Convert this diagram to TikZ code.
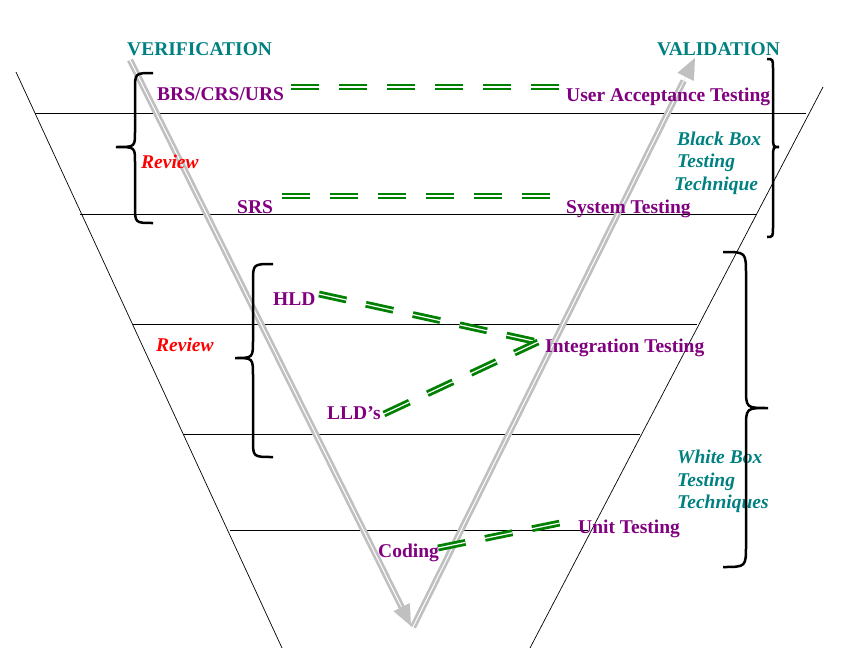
\documentclass[tikz,border=0pt]{standalone}
\usepackage{fontspec}
\setmainfont{Liberation Serif}
\usetikzlibrary{arrows.meta,calc}
\definecolor{vpurple}{RGB}{128,0,128}
\definecolor{vteal}{RGB}{0,128,128}
\definecolor{vgreen}{RGB}{0,128,0}
\definecolor{vgray}{RGB}{192,192,192}
\begin{document}
\begin{tikzpicture}[x=1pt,y=-1pt,
  lbl/.style={font=\fontsize{19.5}{21}\selectfont\bfseries, text=vpurple, inner sep=0pt, anchor=base west},
  head/.style={lbl, text=vteal},
  note/.style={lbl, font=\fontsize{19.5}{21}\selectfont\bfseries\itshape, text=vteal},
  rev/.style={note, text=red},
  funnel/.style={black, line width=0.7pt},
  rung/.style={black, line width=1pt},
  link/.style={draw=vgreen, line width=2.8pt, double=white, double distance=1.2pt, dash pattern=on 28pt off 20pt},
  vshaft/.style={draw=vgray, line width=2.7pt, double=white, double distance=1pt},
  vtip/.style={draw=vgray, line width=0.1pt, -{Triangle[length=21pt,width=18pt]}},
  brace/.style={black, line width=2.5pt}]
\useasboundingbox (0,0) rectangle (868,653);

% funnel
\coordinate (fl1) at (16,72);
\coordinate (fl2) at (282,648);
\coordinate (fr1) at (823,87);
\coordinate (fr2) at (530,648);
\draw[funnel] (fl1) -- (fl2);
\draw[funnel] (fr1) -- (fr2);

% rungs
\draw[rung] (35,113) -- (806,113);
\draw[rung] (80,214) -- (757,214);
\draw[rung] (133,324) -- (697,324);
\draw[rung] (183,434) -- (640,434);
\draw[rung] (230,530) -- (588,530);

% V arrows
\coordinate (va) at (130,60);
\coordinate (vb) at (411,626);
\coordinate (vc) at (413,627);
\coordinate (vd) at (695,58);
\draw[vshaft] (va) -- ($(va)!0.97!(vb)$);
\draw[vtip] ($(va)!0.96!(vb)$) -- (vb);
\draw[vshaft] (vc) -- ($(vc)!0.96!(vd)$);
\draw[vtip] ($(vc)!0.95!(vd)$) -- (vd);

% texts
\node[head] (ver) at (127,55) {VERIFICATION};
\node[head] (val) at (657,55) {VALIDATION};
\node[lbl] (brs) at (157,100) {BRS/CRS/URS};
\node[lbl] (uat) at (566,101) {User Acceptance Testing};
\node[rev] (rev1) at (141,168) {Review};
\node[lbl] (srs) at (237,213) {SRS};
\node[lbl] (st) at (566,213) {System Testing};
\node[note] (bb1) at (677,145) {Black Box};
\node[note] (bb2) at (677,167) {Testing};
\node[note] (bb3) at (674,190) {Technique};
\node[lbl] (hld) at (273,305) {HLD};
\node[rev] (rev2) at (156,351) {Review};
\node[lbl] (it) at (545,352) {Integration Testing};
\node[lbl] (lld) at (327,419) {LLD’s};
\node[note] (wb1) at (677,463) {White Box};
\node[note] (wb2) at (677,486) {Testing};
\node[note] (wb3) at (677,508) {Techniques};
\node[lbl] (ut) at (578,533) {Unit Testing};
\node[lbl] (cod) at (378,557) {Coding};

% green links
\coordinate (brsR) at (291,87);
\coordinate (uatL) at (559,87);
\coordinate (srsR) at (282,196);
\coordinate (stL) at (552,196);
\coordinate (hldR) at (319,294);
\coordinate (itL) at (538,342);
\coordinate (lldR) at (384,414);
\coordinate (codR) at (438,548);
\coordinate (utL) at (560,523);
\draw[link] (brsR) -- (uatL);
\draw[link] (srsR) -- (stL);
\draw[link] (hldR) -- (itL);
\draw[link] (lldR) -- (itL);
\draw[link] (codR) -- (utL);

% braces
\draw[brace] (153,73) .. controls (135,73) .. (135,90) -- (135,132)
  .. controls (135,147) .. (116,147) .. controls (135,147) .. (135,162)
  -- (135,206) .. controls (135,223) .. (153,223);
\draw[brace] (273,264) .. controls (253,264) .. (253,282) -- (253,340)
  .. controls (253,358) .. (235,358) .. controls (253,358) .. (253,376)
  -- (253,440) .. controls (253,457) .. (273,457);
\draw[brace] (767,59) .. controls (773,59) .. (773,70) -- (773,136)
  .. controls (773,147) .. (779,147) .. controls (773,147) .. (773,158)
  -- (773,226) .. controls (773,237) .. (767,237);
\draw[brace] (723,252) .. controls (746,252) .. (746,275) -- (746,388)
  .. controls (746,408) .. (768,408) .. controls (746,408) .. (746,428)
  -- (746,545) .. controls (746,567) .. (723,567);
\end{tikzpicture}
\end{document}
